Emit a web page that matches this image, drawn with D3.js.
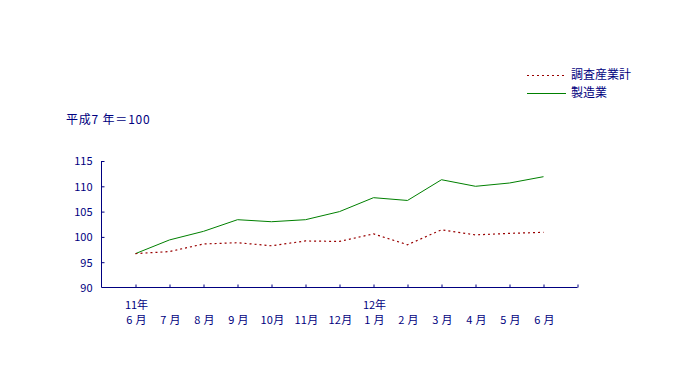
<!DOCTYPE html>
<html><head><meta charset="utf-8">
<script src="https://cdn.jsdelivr.net/npm/d3@7"></script>
<style>body{margin:0;background:#fff}svg{display:block}text{font-family:"Noto Sans CJK JP",sans-serif;fill:#000080}</style>
</head><body><svg id="c" width="685" height="384"></svg>
<script>
const months = ["6 月","7 月","8 月","9 月","10月","11月","12月","1 月","2 月","3 月","4 月","5 月","6 月"];
const yearLabels = [{i:0,t:"11年"},{i:7,t:"12年"}];
const allIndustries = [96.7,97.1,98.6,98.85,98.25,99.2,99.1,100.6,98.45,101.4,100.4,100.7,100.9];
const manufacturing = [96.7,99.4,101.1,103.4,103.0,103.4,105.0,107.75,107.2,111.3,110.0,110.65,111.9];
const yTicks = [90,95,100,105,110,115];
const seriesNames = ["調査産業計","製造業"];
const unitLabel = "平成7 年＝100";

const svg = d3.select("#c");
const navy = "#000080";
const x = d3.scaleLinear().domain([-1, 13]).range([101.5, 577.5]);
const y = d3.scaleLinear().domain([90, 115]).range([287.5, 161]);

// y axis
const ya = svg.append("g").attr("transform","translate(101.5,0)")
  .call(d3.axisRight(y).tickValues(yTicks).tickSize(3).tickFormat(d=>d));
ya.selectAll("text").attr("x",-9).attr("text-anchor","end").style("font-size","11px").attr("fill",navy).attr("dy","0.35em");
ya.select(".domain").attr("stroke",navy).attr("d","M0,161V287.5");
ya.selectAll(".tick line").attr("stroke",navy);
ya.selectAll(".tick").filter(d=>d===90).select("line").remove();

// x axis
const xa = svg.append("g").attr("transform","translate(0,287.5)")
  .call(d3.axisTop(x).tickValues(d3.range(0,14)).tickSize(3).tickFormat(""));
xa.select(".domain").attr("stroke",navy).attr("d","M101.5,0H577.5");
xa.selectAll(".tick line").attr("stroke",navy);

svg.append("g").selectAll("text").data(months).join("text")
  .attr("x",(d,i)=>x(i)+1).attr("y",324).attr("text-anchor","middle")
  .style("font-size","11px").style("letter-spacing","0.3px").text(d=>d);
svg.append("g").selectAll("text").data(yearLabels).join("text")
  .attr("x",d=>x(d.i)+1).attr("y",309).attr("text-anchor","middle")
  .style("font-size","11px").text(d=>d.t);

const line = d3.line().x((d,i)=>x(i)).y(d=>y(d));
svg.append("path").datum(manufacturing).attr("d",line).attr("fill","none").attr("stroke","#008000").attr("stroke-width",1);
svg.append("path").datum(allIndustries).attr("d",line).attr("fill","none").attr("stroke","#990000").attr("stroke-width",1.2).attr("stroke-dasharray","2,3");

// legend
const lg = svg.append("g");
lg.append("line").attr("x1",527).attr("x2",565).attr("y1",75.5).attr("y2",75.5).attr("stroke","#990000").attr("stroke-width",1.2).attr("stroke-dasharray","2,3");
lg.append("line").attr("x1",527).attr("x2",566).attr("y1",93.5).attr("y2",93.5).attr("stroke","#008000");
lg.selectAll("text").data(seriesNames).join("text").attr("x",571).attr("y",(d,i)=>75+18*i).attr("dy","0.35em")
  .style("font-size","12px").text(d=>d);

svg.append("text").attr("x",66).attr("y",120).attr("dy","0.35em").style("font-size","12px").style("letter-spacing","0.8px").attr("xml:space","preserve").text(unitLabel);
</script></body></html>
